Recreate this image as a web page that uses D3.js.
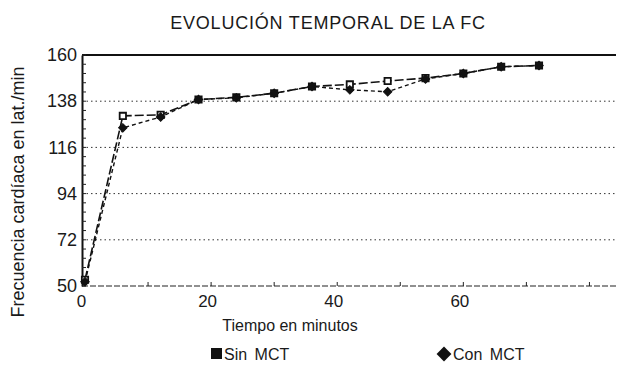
<!DOCTYPE html>
<html>
<head>
<meta charset="utf-8">
<script src="https://cdn.jsdelivr.net/npm/d3@7"></script>
<style>
  html, body { margin: 0; padding: 0; background: #fff; }
  svg { display: block; }
  text { font-family: "Liberation Sans", Arial, sans-serif; fill: #1a1a1a; }
</style>
</head>
<body>
<svg id="chart" width="617" height="371"></svg>
<script>
const minutes = [0, 6, 12, 18, 24, 30, 36, 42, 48, 54, 60, 66, 72];
const sinMCT  = [53, 131, 131.5, 138.8, 139.8, 141.8, 145, 146, 147.6, 149, 151.2, 154.4, 155];
const conMCT  = [52, 125.3, 130.5, 138.8, 139.6, 141.8, 145, 143.4, 142.5, 148.6, 151.2, 154.4, 155];
const yTicks  = [50, 72, 94, 116, 138, 160];
const xTicks  = [0, 20, 40, 60];
const seriesNames = ["Sin MCT", "Con MCT"];

const svg = d3.select("#chart");
const x = d3.scaleLinear().domain([0, 72]).range([85, 539]);
const y = d3.scaleLinear().domain([50, 160]).range([286, 55]);
const xEnd = 616;

// title
svg.append("text").attr("x", 328).attr("y", 29).attr("text-anchor", "middle")
  .attr("font-size", 18).attr("letter-spacing", 0.8).text("EVOLUCIÓN TEMPORAL DE LA FC");

// gridlines
svg.append("g").selectAll("line").data(yTicks.filter(d => d > 50 && d < 160)).join("line")
  .attr("x1", 82).attr("x2", xEnd).attr("y1", d => y(d)).attr("y2", d => y(d))
  .attr("stroke", "#333").attr("stroke-width", 1).attr("stroke-dasharray", "1.5,3");

// top frame line
svg.append("line").attr("x1", 82).attr("x2", xEnd).attr("y1", y(160)).attr("y2", y(160))
  .attr("stroke", "#111").attr("stroke-width", 2.2);
// bottom line
svg.append("line").attr("x1", 82).attr("x2", xEnd).attr("y1", y(50)).attr("y2", y(50))
  .attr("stroke", "#222").attr("stroke-width", 1.2).attr("stroke-dasharray", "6,2");

// y axis
const yAxis = d3.axisLeft(y).tickValues(yTicks).tickSize(0).tickPadding(5);
const gy = svg.append("g").attr("transform", "translate(82,0)").call(yAxis);
gy.select(".domain").attr("stroke", "#111").attr("stroke-width", 2);
gy.selectAll("text").attr("font-size", 18).attr("fill", "#1a1a1a")
  .attr("font-family", "Liberation Sans, Arial, sans-serif");
// minor ticks
const minor = d3.range(50, 160.1, 4.4);
svg.append("g").selectAll("line").data(minor).join("line")
  .attr("x1", 82).attr("x2", 86).attr("y1", d => y(d)).attr("y2", d => y(d))
  .attr("stroke", "#222").attr("stroke-width", 1);

// x axis labels
const xAxis = d3.axisBottom(x).tickValues(xTicks).tickSize(0).tickPadding(9);
const gx = svg.append("g").attr("transform", `translate(-4,${y(50)})`).call(xAxis);
gx.select(".domain").remove();
gx.selectAll("text").attr("font-size", 17).attr("fill", "#1a1a1a")
  .attr("font-family", "Liberation Sans, Arial, sans-serif");
// small x ticks
svg.append("g").selectAll("line").data(d3.range(10, 86, 10)).join("line")
  .attr("x1", d => x(d)).attr("x2", d => x(d)).attr("y1", y(50)).attr("y2", y(50) - 4)
  .attr("stroke", "#222");

// axis titles
svg.append("text").attr("transform", "translate(24,192) rotate(-90)")
  .attr("text-anchor", "middle").attr("font-size", 18).text("Frecuencia cardíaca en lat./min");
svg.append("text").attr("x", 290).attr("y", 331).attr("text-anchor", "middle")
  .attr("font-size", 16).text("Tiempo en minutos");

// lines
const line = d3.line().x((d, i) => x(minutes[i])).y(d => y(d));
svg.append("path").datum(sinMCT).attr("d", line).attr("fill", "none")
  .attr("stroke", "#111").attr("stroke-width", 1.6).attr("stroke-dasharray", "9,3");
svg.append("path").datum(conMCT).attr("d", line).attr("fill", "none")
  .attr("stroke", "#111").attr("stroke-width", 1.4).attr("stroke-dasharray", "4,3");

// markers
svg.append("g").selectAll("path").data(sinMCT).join("path")
  .attr("transform", (d, i) => `translate(${x(minutes[i])},${y(d)})`)
  .attr("d", d3.symbol(d3.symbolSquare, 40)).attr("fill", "#fff").attr("stroke", "#111").attr("stroke-width", 1.8);
svg.append("g").selectAll("path").data(conMCT).join("path")
  .attr("transform", (d, i) => `translate(${x(minutes[i])},${y(d)}) rotate(45)`)
  .attr("d", d3.symbol(d3.symbolSquare, 36)).attr("fill", "#111").attr("stroke", "#111").attr("stroke-width", 1);

// legend
const lg = svg.append("g");
lg.append("rect").attr("x", 211).attr("y", 348).attr("width", 11).attr("height", 11).attr("fill", "#111");
lg.append("text").attr("x", 224).attr("y", 360).attr("font-size", 16).attr("word-spacing", 3).text(seriesNames[0]);
lg.append("path").attr("transform", "translate(444,354) rotate(45)")
  .attr("d", d3.symbol(d3.symbolSquare, 110)).attr("fill", "#111");
lg.append("text").attr("x", 453).attr("y", 360).attr("font-size", 16).attr("word-spacing", 3).text(seriesNames[1]);
</script>
</body>
</html>
